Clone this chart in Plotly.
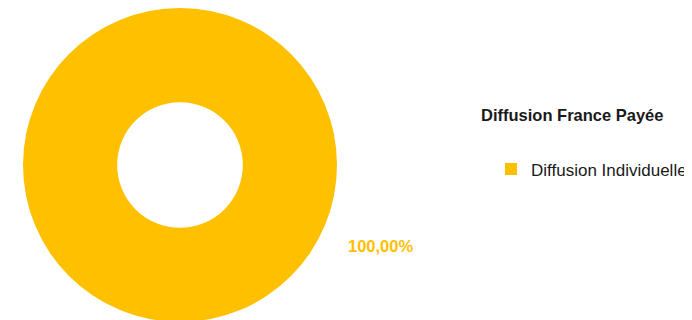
import plotly.graph_objects as go

labels = ["Diffusion Individuelle"]
values = [100.0]
colors = ["#FFC000"]
legend_title = "Diffusion France Payée"

# page body has an 8px margin; figure sized so it ends at the window edge
W, H = 684, 314
cx, r = 172, 157

fig = go.Figure()
fig.add_trace(go.Pie(
    labels=labels,
    values=values,
    hole=0.4,
    marker=dict(colors=colors, line=dict(width=0)),
    textinfo="none",
    sort=False,
    direction="clockwise",
    showlegend=True,
    domain=dict(x=[(cx - r) / W, (cx + r) / W], y=[0, 1]),
    hoverinfo="label+percent",
))

pct_text = f"{values[0] / sum(values) * 100:.2f}".replace(".", ",") + "%"
fig.add_annotation(
    x=372 / W, y=1 - 238 / H, xref="paper", yref="paper",
    text=f"<b>{pct_text}</b>", showarrow=False,
    font=dict(family="Liberation Sans, Arial, sans-serif", size=16.5, color=colors[0]),
    xanchor="center", yanchor="middle",
)
fig.add_annotation(
    x=471 / W, y=1 - 107 / H, xref="paper", yref="paper",
    text=f"<b>{legend_title}</b>", showarrow=False,
    font=dict(family="Liberation Sans, Arial, sans-serif", size=16.5, color="#1a1a1a"),
    xanchor="left", yanchor="middle",
)

fig.update_layout(
    width=W, height=H,
    margin=dict(l=0, r=0, t=0, b=0),
    paper_bgcolor="white",
    plot_bgcolor="white",
    font=dict(family="Liberation Sans, Arial, sans-serif", size=17, color="#1a1a1a"),
    legend=dict(
        x=1, y=1 - 161.5 / H, xanchor="right", yanchor="middle",
        bgcolor="rgba(0,0,0,0)", borderwidth=0,
        font=dict(size=17),
        itemwidth=30,
    ),
)

fig.write_html("out.html")
